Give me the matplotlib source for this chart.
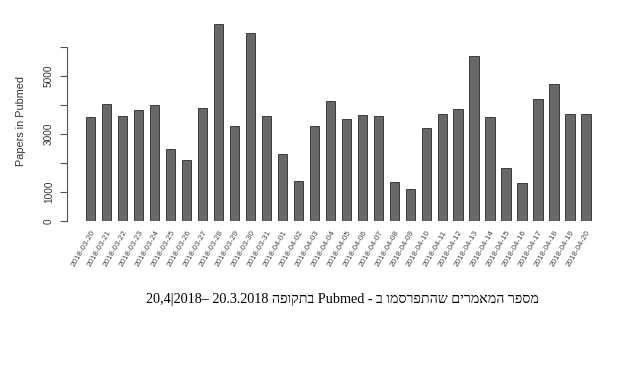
import matplotlib
matplotlib.use("Agg")
import matplotlib.pyplot as plt
import numpy as np

dates = ["2018-03-20", "2018-03-21", "2018-03-22", "2018-03-23", "2018-03-24",
         "2018-03-25", "2018-03-26", "2018-03-27", "2018-03-28", "2018-03-29",
         "2018-03-30", "2018-03-31", "2018-04-01", "2018-04-02", "2018-04-03",
         "2018-04-04", "2018-04-05", "2018-04-06", "2018-04-07", "2018-04-08",
         "2018-04-09", "2018-04-10", "2018-04-11", "2018-04-12", "2018-04-13",
         "2018-04-14", "2018-04-15", "2018-04-16", "2018-04-17", "2018-04-18",
         "2018-04-19", "2018-04-20"]
papers = [3600, 4020, 3630, 3840, 4000, 2490, 2090, 3910, 6790, 3290,
          6490, 3630, 2300, 1370, 3290, 4140, 3520, 3640, 3620, 1330,
          1120, 3220, 3690, 3860, 5700, 3600, 1840, 1320, 4210, 4720,
          3700, 3700]
yticks = [0, 1000, 2000, 3000, 4000, 5000, 6000]
ytick_labels = ["0", "1000", "", "3000", "", "5000", ""]
ylabel = "Papers in Pubmed"
# Caption shown in visual (left-to-right) order
caption = "20,4|2018\u2013 20.3.2018 " + "בתקופה"[::-1] + " Pubmed - " + "ב" + " " + \
          "שהתפרסמו"[::-1] + " " + "המאמרים"[::-1] + " " + "מספר"[::-1]

W, H = 640, 381
fig = plt.figure(figsize=(W / 100, H / 100), dpi=100)
fig.patch.set_facecolor("white")

left_px, right_px = 66.7, 610
bottom_px, top_px = 221, 20
ax = fig.add_axes([left_px / W, 1 - bottom_px / H,
                   (right_px - left_px) / W, (bottom_px - top_px) / H])

x = np.arange(len(papers))
ax.bar(x, papers, width=0.58, color="#686868", edgecolor="#3c3c3c", linewidth=0.7)

step = 15.98
ax.set_xlim(-(90.5 - left_px) / step, 31 + (right_px - 586) / step)
ax.set_ylim(0, (bottom_px - top_px) / 29 * 1000)

for s in ["top", "right", "bottom"]:
    ax.spines[s].set_visible(False)
ax.spines["left"].set_bounds(0, 6000)
ax.spines["left"].set_color("#555555")
ax.spines["left"].set_linewidth(0.8)

ax.set_yticks(yticks)
ax.set_yticklabels(ytick_labels, rotation=90, va="center",
                   fontsize=7.2, color="#333333", family="Liberation Sans")
ax.tick_params(axis="y", length=5.2, width=0.8, color="#555555", pad=4)

ax.set_xticks(x)
ax.set_xticklabels(dates, rotation=60, ha="right", va="top", rotation_mode="anchor",
                   fontsize=5.8, color="#444444", family="Liberation Sans")
ax.tick_params(axis="x", length=0, pad=6)

fig.text(21.5 / W, 1 - 121.5 / H, ylabel, rotation=90, ha="center", va="center",
         fontsize=7.8, color="#333333", family="Liberation Sans")

fig.text(342 / W, 1 - 300 / H, caption, ha="center", va="center",
         fontsize=10.2, color="black",
         family=["Liberation Serif", "DejaVu Serif", "DejaVu Sans"])

fig.savefig("out.png", dpi=100, facecolor="white")
